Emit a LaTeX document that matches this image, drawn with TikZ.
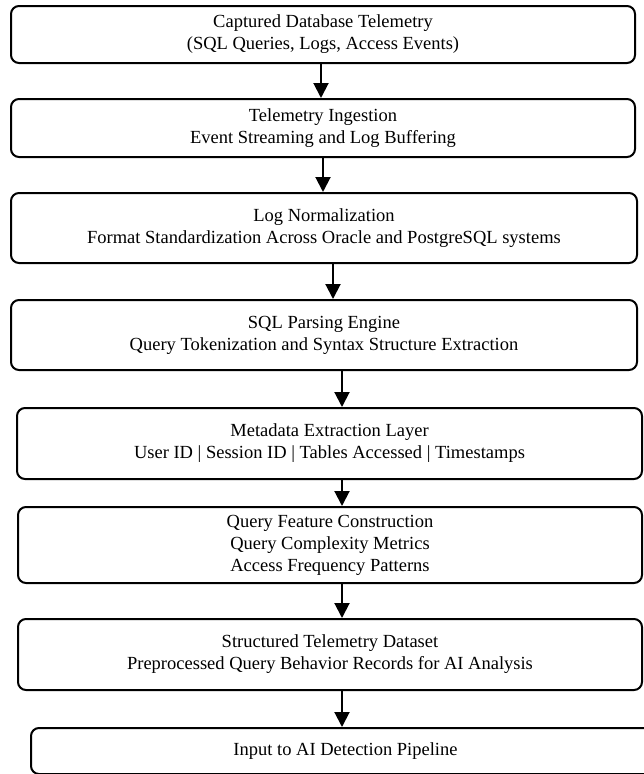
\documentclass[tikz,border=0pt]{standalone}
\usepackage{fontspec}
\setmainfont{Liberation Serif}
\usetikzlibrary{arrows.meta}
\begin{document}
\begin{tikzpicture}[x=1pt,y=1pt,
  stagebox/.style={draw=black, line width=2pt, rounded corners=8pt, inner sep=0pt,
    align=center, font=\fontsize{18.5}{22}\selectfont, fill=white},
  flowarrow/.style={line width=2pt, -{Triangle[width=15pt,length=15pt]}}]
\useasboundingbox (0,0) rectangle (643,-774);
\fill[white] (0,0) rectangle (643,-774);
\node[stagebox, minimum width=624pt, minimum height=57pt] (b1) at (323,-34.5)
  {Captured Database Telemetry\\(SQL Queries, Logs, Access Events)};
\node[stagebox, minimum width=624pt, minimum height=58pt] (b2) at (323,-128)
  {Telemetry Ingestion\\Event Streaming and Log Buffering};
\node[stagebox, minimum width=626pt, minimum height=70pt] (b3) at (324,-228)
  {Log Normalization\\Format Standardization Across Oracle and PostgreSQL systems};
\node[stagebox, minimum width=626pt, minimum height=70pt] (b4) at (324,-335)
  {SQL Parsing Engine\\Query Tokenization and Syntax Structure Extraction};
\node[stagebox, minimum width=625pt, minimum height=71pt] (b5) at (329.5,-443.5)
  {Metadata Extraction Layer\\User ID | Session ID | Tables Accessed | Timestamps};
\node[stagebox, minimum width=624pt, minimum height=76pt] (b6) at (330,-545)
  {Query Feature Construction\\Query Complexity Metrics\\Access Frequency Patterns};
\node[stagebox, minimum width=624pt, minimum height=71pt] (b7) at (330,-654.5)
  {Structured Telemetry Dataset\\Preprocessed Query Behavior Records for AI Analysis};
\node[stagebox, minimum width=629pt, minimum height=46pt] (b8) at (345.5,-751)
  {Input to AI Detection Pipeline};
\coordinate (c1) at (321,0);
\coordinate (c2) at (323,0);
\coordinate (c3) at (333,0);
\coordinate (c4) at (342,0);
\draw[flowarrow] (b1.south -| c1) -- (b2.north -| c1);
\draw[flowarrow] (b2.south -| c2) -- (b3.north -| c2);
\draw[flowarrow] (b3.south -| c3) -- (b4.north -| c3);
\draw[flowarrow] (b4.south -| c4) -- (b5.north -| c4);
\draw[flowarrow] (b5.south -| c4) -- (b6.north -| c4);
\draw[flowarrow] (b6.south -| c4) -- (b7.north -| c4);
\draw[flowarrow] (b7.south -| c4) -- (b8.north -| c4);
\end{tikzpicture}
\end{document}
